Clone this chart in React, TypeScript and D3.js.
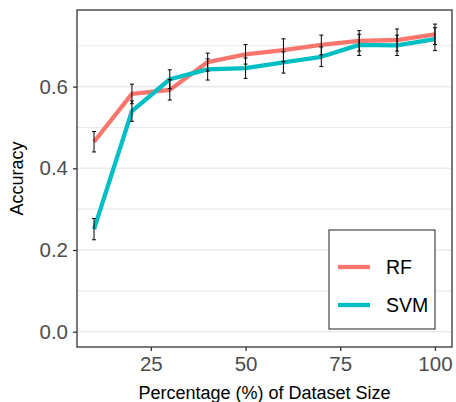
import { useEffect, useRef } from 'react';
import * as d3 from 'd3';

// dataset size (%) on x
const sizes = [10, 20, 30, 40, 50, 60, 70, 80, 90, 100];

// mean accuracy per model
const rfAcc = [0.465, 0.582, 0.592, 0.66, 0.679, 0.689, 0.702, 0.712, 0.714, 0.728];
const svmAcc = [0.251, 0.54, 0.618, 0.642, 0.645, 0.659, 0.673, 0.702, 0.701, 0.716];

// half-width of error bars
const rfErr = [0.025, 0.024, 0.025, 0.022, 0.024, 0.028, 0.024, 0.025, 0.027, 0.025];
const svmErr = [0.026, 0.025, 0.023, 0.026, 0.025, 0.026, 0.024, 0.026, 0.025, 0.028];

const xTicks = [25, 50, 75, 100];
const yTicks = [0.0, 0.2, 0.4, 0.6];
const yMinor = [0.1, 0.3, 0.5, 0.7];

const models = [
  { name: 'RF', acc: rfAcc, err: rfErr, color: '#F8766D' },
  { name: 'SVM', acc: svmAcc, err: svmErr, color: '#00BFC4' },
];

export default function App() {
  const svgRef = useRef<SVGSVGElement>(null);

  useEffect(() => {
    const el = svgRef.current;
    if (!el) return;
    d3.select(el).selectAll('*').remove();

    const W = 456;
    const H = 402;
    const margin = { top: 10, right: 4, bottom: 55, left: 77 };
    const w = W - margin.left - margin.right;
    const h = H - margin.top - margin.bottom;

    const svg = d3.select(el).attr('width', W).attr('height', H);
    const g = svg.append('g').attr('transform', `translate(${margin.left},${margin.top})`);

    const x = d3.scaleLinear().domain([5.5, 104.5]).range([0, w]);
    const y = d3.scaleLinear().domain([-0.0375, 0.7875]).range([h, 0]);

    const font = 'Liberation Sans, Arial, Helvetica, sans-serif';

    // grid (horizontal only)
    g.selectAll('.minor').data(yMinor).enter().append('line')
      .attr('x1', 0).attr('x2', w)
      .attr('y1', d => y(d)).attr('y2', d => y(d))
      .attr('stroke', '#EBEBEB').attr('stroke-width', 1.1);
    g.selectAll('.major').data(yTicks).enter().append('line')
      .attr('x1', 0).attr('x2', w)
      .attr('y1', d => y(d)).attr('y2', d => y(d))
      .attr('stroke', '#EBEBEB').attr('stroke-width', 1.6);

    // lines
    const line = d3.line<number>()
      .x((_, i) => x(sizes[i]))
      .y(d => y(d));

    models.forEach(m => {
      g.append('path')
        .datum(m.acc)
        .attr('fill', 'none')
        .attr('stroke', m.color)
        .attr('stroke-width', 4.3)
        .attr('stroke-linejoin', 'round')
        .attr('d', line);
    });

    // error bars
    models.forEach(m => {
      m.acc.forEach((v, i) => {
        const cx = x(sizes[i]);
        const lo = y(v - m.err[i]);
        const hi = y(v + m.err[i]);
        const bar = g.append('g').attr('stroke', '#000').attr('stroke-width', 1);
        bar.append('line').attr('x1', cx).attr('x2', cx).attr('y1', lo).attr('y2', hi);
        bar.append('line').attr('x1', cx - 2).attr('x2', cx + 2).attr('y1', lo).attr('y2', lo);
        bar.append('line').attr('x1', cx - 2).attr('x2', cx + 2).attr('y1', hi).attr('y2', hi);
      });
    });

    // panel border
    g.append('rect')
      .attr('x', 0).attr('y', 0).attr('width', w).attr('height', h)
      .attr('fill', 'none').attr('stroke', '#333333').attr('stroke-width', 1.3);

    // axes
    const yAxis = g.append('g').call(
      d3.axisLeft(y).tickValues(yTicks).tickSize(4).tickPadding(5).tickFormat(d3.format('.1f'))
    );
    const xAxis = g.append('g').attr('transform', `translate(0,${h})`).call(
      d3.axisBottom(x).tickValues(xTicks).tickSize(4).tickPadding(5).tickFormat(d3.format('d'))
    );
    [yAxis, xAxis].forEach(a => {
      a.select('.domain').remove();
      a.selectAll('line').attr('stroke', '#333333').attr('stroke-width', 1.3);
      a.selectAll('text')
        .style('font-family', font)
        .style('font-size', '20.5px')
        .attr('fill', '#4D4D4D');
    });

    // axis titles
    svg.append('text')
      .attr('x', margin.left + w / 2).attr('y', 399)
      .attr('text-anchor', 'middle')
      .style('font-family', font).style('font-size', '18px')
      .attr('fill', '#000')
      .text('Percentage (%) of Dataset Size');

    svg.append('text')
      .attr('transform', `translate(23,${margin.top + h / 2}) rotate(-90)`)
      .attr('text-anchor', 'middle')
      .style('font-family', font).style('font-size', '18px')
      .attr('fill', '#000')
      .text('Accuracy');

    // legend
    const lg = svg.append('g').attr('transform', 'translate(329,230)');
    lg.append('rect')
      .attr('width', 106).attr('height', 99)
      .attr('fill', '#fff').attr('stroke', '#333333').attr('stroke-width', 1.1);
    models.forEach((m, i) => {
      const cy = 37 + i * 38;
      lg.append('line')
        .attr('x1', 9).attr('x2', 41).attr('y1', cy).attr('y2', cy)
        .attr('stroke', m.color).attr('stroke-width', 4.3);
      lg.append('text')
        .attr('x', 57).attr('y', cy + 7)
        .style('font-family', font).style('font-size', '19.5px')
        .attr('fill', '#000')
        .text(m.name);
    });
  }, []);

  return (
    <svg ref={svgRef} style={{ position: 'absolute', left: 0, top: 0, display: 'block' }} />
  );
}
